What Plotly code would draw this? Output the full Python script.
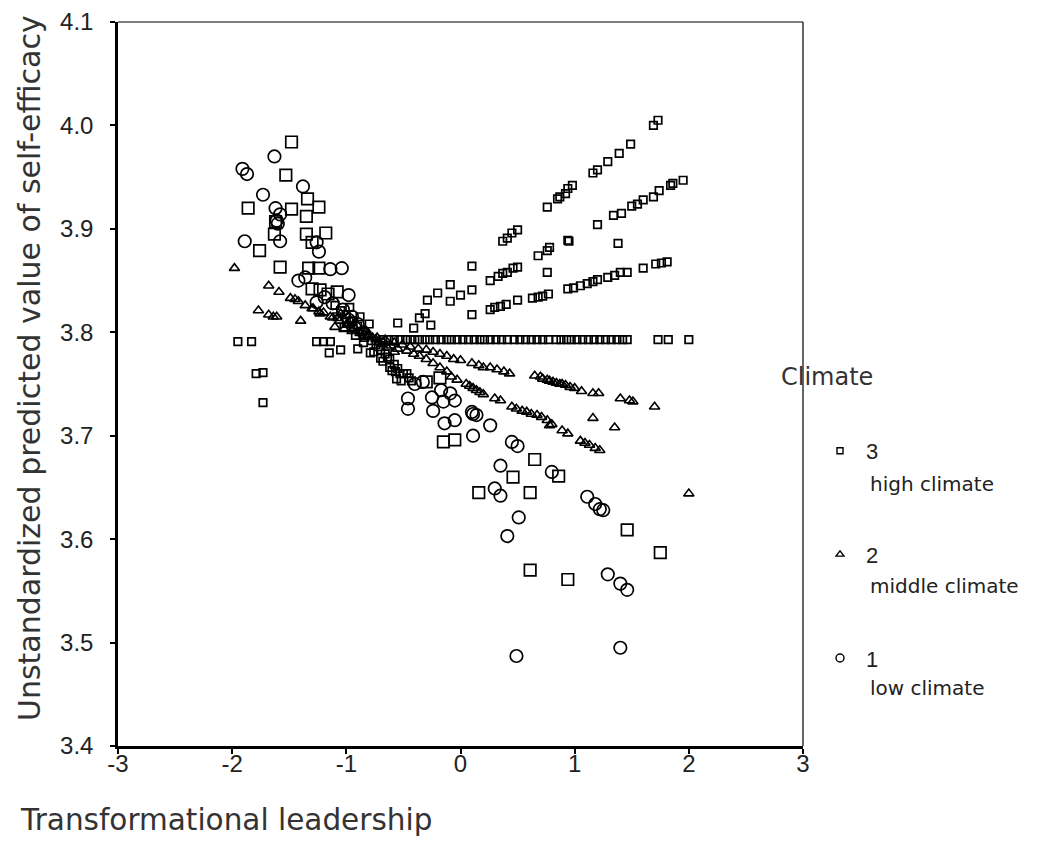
import plotly.graph_objects as go

# ---------------- data ----------------
# High climate (3): squares lying on the fan of predicted-value lines
hc_line_x = [1.73, 1.69, 1.49, 1.39, 1.29, 1.20, 1.16, 0.98, 0.94, 0.92, 0.87, 0.85, 0.76, 0.50, 0.45, 0.41, 0.37,
             0.10, 0.10, 0.00, -0.09, -0.09, -0.20, -0.29, -0.31, -0.36, -0.26, -0.41, -0.55,
             1.95, 1.86, 1.84, 1.74, 1.69, 1.60, 1.55, 1.50, 1.41, 1.34, 1.20, 0.94, 0.95, 0.78, 0.76, 0.68,
             1.38, 0.76, 0.50, 0.46, 0.41, 0.37, 0.33, 0.26,
             1.81, 1.76, 1.71, 1.60, 1.46, 1.40, 1.35, 1.29, 1.20, 1.16, 1.11, 1.05, 0.99, 0.94, 0.77, 0.72,
             0.68, 0.63, 0.50, 0.40, 0.35, 0.30, 0.26, 0.10,
             -1.95, -1.83, -1.26, -1.20, -1.14,
             -0.68, -0.63, -0.58, -0.53, -0.48, -0.44, -0.40, -0.36, -0.31, -0.27, -0.22, -0.17, -0.12, -0.08,
             -0.03, 0.02, 0.07, 0.12, 0.17, 0.21, 0.26, 0.31, 0.36, 0.41, 0.47, 0.52, 0.57, 0.62, 0.67, 0.72,
             0.77, 0.84, 0.88, 0.93, 0.97, 1.02, 1.07, 1.12, 1.17, 1.22, 1.27, 1.32, 1.37, 1.42, 1.46,
             1.73, 1.82, 2.00,
             -1.79, -1.73, -1.73, -1.15, -1.05,
             -1.10, -1.05, -1.00, -0.95, -0.90, -0.86, -0.82, -0.78, -0.74, -0.70, -0.66, -0.62, -0.58, -0.55,
             -0.50, -0.45, -1.02, -0.92, -0.85, -0.76, -0.68, -0.60, -0.52, -0.97, -0.88, -0.80, -0.90, -0.79,
             -0.70, -0.62, -0.53, -0.56, -0.47, -0.43,
             -1.08, -1.00, -0.94, -0.84, -0.72, -0.64, -0.57]
hc_line_y = [4.005, 4.000, 3.982, 3.973, 3.965, 3.957, 3.954, 3.942, 3.939, 3.934, 3.931, 3.929, 3.921, 3.899,
             3.896, 3.891, 3.888,
             3.864, 3.841, 3.836, 3.846, 3.830, 3.838, 3.831, 3.818, 3.814, 3.807, 3.804, 3.809,
             3.947, 3.944, 3.942, 3.937, 3.931, 3.928, 3.924, 3.922, 3.915, 3.913, 3.904, 3.889, 3.888, 3.882,
             3.879, 3.874,
             3.886, 3.858, 3.863, 3.862, 3.858, 3.857, 3.854, 3.850,
             3.868, 3.867, 3.866, 3.862, 3.858, 3.858, 3.855, 3.853, 3.851, 3.849, 3.847, 3.845, 3.843, 3.842,
             3.837, 3.835, 3.834, 3.833, 3.831, 3.827, 3.825, 3.824, 3.822, 3.817,
             3.791, 3.791, 3.791, 3.791, 3.791,
             3.793, 3.793, 3.793, 3.793, 3.793, 3.793, 3.793, 3.793, 3.793, 3.793, 3.793, 3.793, 3.793, 3.793,
             3.793, 3.793, 3.793, 3.793, 3.793, 3.793, 3.793, 3.793, 3.793, 3.793, 3.793, 3.793, 3.793, 3.793,
             3.793, 3.793, 3.793, 3.793, 3.793, 3.793, 3.793, 3.793, 3.793, 3.793, 3.793, 3.793, 3.793, 3.793,
             3.793, 3.793, 3.793,
             3.793, 3.793, 3.793,
             3.760, 3.761, 3.732, 3.780, 3.783,
             3.826, 3.821, 3.817, 3.811, 3.806, 3.801, 3.797, 3.792, 3.788, 3.783, 3.779, 3.774, 3.769, 3.765,
             3.760, 3.756, 3.805, 3.797, 3.790, 3.781, 3.772, 3.763, 3.753, 3.824, 3.815, 3.808, 3.784, 3.780,
             3.775, 3.766, 3.760, 3.755, 3.760, 3.753,
             3.815, 3.810, 3.804, 3.795, 3.786, 3.776, 3.762]

# High climate (3): scattered squares
hc_pts_x = [-1.48, -1.53, -1.34, -1.24, -1.48, -1.86, -1.35, -1.62, -1.63, -1.35, -1.18, -1.30, -1.76, -1.58,
            -1.33, -1.24, -1.30, -1.23, -1.16, -1.08, -0.30, -0.18, -0.15, -0.05, 0.65, 0.86, 0.46, 0.16,
            0.61, 1.46, 1.75, 0.61, 0.94]
hc_pts_y = [3.984, 3.952, 3.929, 3.921, 3.919, 3.920, 3.912, 3.907, 3.895, 3.895, 3.896, 3.887, 3.879, 3.863,
            3.862, 3.862, 3.842, 3.841, 3.837, 3.839, 3.752, 3.756, 3.694, 3.696, 3.677, 3.661, 3.660, 3.645,
            3.645, 3.609, 3.587, 3.570, 3.561]

# Middle climate (2): triangles
mc_x = [-1.98, -1.68, -1.59, -1.49, -1.45, -1.42, -1.36, -1.30, -1.77, -1.68, -1.64, -1.61, -1.40, -1.29,
        -1.24, -1.23, -1.14,
        -1.10, -1.02, -0.95, -0.88, -0.81, -0.73, -0.66, -0.58, -0.51, -0.44, -0.37, -0.30,
        -1.20, -1.12, -1.06, -0.99, -0.93, -0.86, -0.80, -0.74, -0.68, -0.61, -0.55,
        -0.24, -0.18, -0.12, -0.06, 0.00, 0.10, 0.16, 0.20, 0.26, 0.32, 0.38, 0.43, 0.65, 0.70, 0.72, 0.76,
        0.78, 0.81, 0.84, 0.87, 0.89, 0.92, 0.96, 1.00, 1.06, 1.16, 1.21, 1.40, 1.48, 1.51, 1.70,
        -0.47, -0.41, -0.36, -0.30, -0.24, -0.18, -0.12, -0.08, -0.03, 0.05, 0.08, 0.11, 0.14, 0.17, 0.20,
        0.30, 0.35, 0.45, 0.49, 0.54, 0.58, 0.62, 0.67, 0.71, 0.76, 0.80, 0.78, 0.89, 0.94, 1.05, 1.09,
        1.13, 1.18, 1.22,
        1.16, 1.35, 2.00,
        -1.05, -0.97, -0.90, -0.83, -0.77, -0.71, -0.64, -0.58]
mc_y = [3.862, 3.845, 3.839, 3.833, 3.832, 3.830, 3.826, 3.823, 3.821, 3.817, 3.815, 3.815, 3.811, 3.823,
        3.820, 3.818, 3.815,
        3.805, 3.803, 3.801, 3.799, 3.797, 3.795, 3.793, 3.790, 3.788, 3.786, 3.784, 3.783,
        3.819, 3.814, 3.811, 3.807, 3.804, 3.800, 3.797, 3.793, 3.790, 3.787, 3.784,
        3.781, 3.779, 3.777, 3.774, 3.773, 3.770, 3.768, 3.766, 3.766, 3.764, 3.762, 3.760, 3.758, 3.757,
        3.755, 3.754, 3.753, 3.752, 3.751, 3.750, 3.750, 3.749, 3.747, 3.746, 3.743, 3.741, 3.741, 3.736,
        3.734, 3.733, 3.728,
        3.782, 3.779, 3.777, 3.774, 3.770, 3.766, 3.762, 3.757, 3.754, 3.750, 3.748, 3.746, 3.744, 3.742,
        3.740, 3.736, 3.734, 3.728, 3.726, 3.724, 3.723, 3.721, 3.720, 3.718, 3.715, 3.711, 3.710, 3.705,
        3.702, 3.695, 3.693, 3.691, 3.688, 3.686,
        3.717, 3.708, 3.644,
        3.818, 3.812, 3.806, 3.801, 3.795, 3.790, 3.785, 3.781]

# Low climate (1): circles
lc_x = [-1.63, -1.91, -1.87, -1.38, -1.73, -1.62, -1.58, -1.61, -1.60, -1.89, -1.58, -1.26, -1.24, -1.14,
        -1.04, -1.42, -1.36, -0.98, -1.19, -1.26, -1.12, -1.03, -0.95, -0.90, -0.85, -0.98,
        -0.46, -0.46, -0.25, -0.24, -0.40, -0.33, -0.17, -0.09, -0.15, -0.05, -0.14, -0.05, 0.10, 0.11,
        0.14, 0.26, 0.11, 0.45, 0.50, 0.35, 0.30, 0.35, 0.80, 0.51, 0.41, 1.11, 1.18, 1.22, 1.25, 1.29,
        1.40, 1.46, 0.49, 1.40]
lc_y = [3.970, 3.958, 3.953, 3.941, 3.933, 3.920, 3.914, 3.908, 3.905, 3.888, 3.888, 3.887, 3.878, 3.861,
        3.862, 3.850, 3.853, 3.836, 3.834, 3.829, 3.828, 3.822, 3.815, 3.808, 3.800, 3.812,
        3.736, 3.726, 3.737, 3.724, 3.750, 3.752, 3.744, 3.741, 3.733, 3.734, 3.712, 3.715, 3.723, 3.721,
        3.720, 3.710, 3.700, 3.694, 3.690, 3.671, 3.649, 3.642, 3.665, 3.621, 3.603, 3.641, 3.634, 3.629,
        3.628, 3.566, 3.557, 3.551, 3.487, 3.495]

x_ticks = [-3, -2, -1, 0, 1, 2, 3]
y_ticks = [3.4, 3.5, 3.6, 3.7, 3.8, 3.9, 4.0, 4.1]
legend_title = "Climate"
legend_names = ["3", "2", "1"]
legend_labels = ["high climate", "middle climate", "low climate"]

# ---------------- figure ----------------
TXT = "DejaVu Sans"
TICK = "Liberation Sans"
fig = go.Figure()

fig.add_trace(go.Scatter(x=hc_line_x, y=hc_line_y, mode="markers", name=legend_labels[0],
                         showlegend=False,
                         marker=dict(symbol="square-open", size=7.5, color="black", line=dict(width=1.7))))
fig.add_trace(go.Scatter(x=hc_pts_x, y=hc_pts_y, mode="markers", name=legend_labels[0],
                         showlegend=False,
                         marker=dict(symbol="square-open", size=11.5, color="black", line=dict(width=1.7))))
fig.add_trace(go.Scatter(x=mc_x, y=mc_y, mode="markers", name=legend_labels[1], showlegend=False,
                         marker=dict(symbol="triangle-up-open", size=9, color="black", line=dict(width=1.6))))
fig.add_trace(go.Scatter(x=lc_x, y=lc_y, mode="markers", name=legend_labels[2], showlegend=False,
                         marker=dict(symbol="circle-open", size=12.5, color="black", line=dict(width=1.7))))

# legend-only entries (small symbols, as in the reference legend)
legend_symbols = ["square-open", "triangle-up-open", "circle-open"]
legend_sizes = [6, 7, 8]
for nm, sym, sz, grp in zip(legend_names, legend_symbols, legend_sizes, ["g3", "g2", "g1"]):
    fig.add_trace(go.Scatter(x=[None], y=[None], mode="markers", name=" " + nm, legendgroup=grp,
                             marker=dict(symbol=sym, size=sz, color="black", line=dict(width=1.4))))

# The page body adds an 8 px offset; figure is sized so the plot lands where the reference has it.
OFF = 8
W, H = 1043 - OFF, 859 - OFF
L, R, T, B = 110, 240, 14, 113
pw, ph = W - L - R, H - T - B


def px_x(px):
    return (px - OFF - L) / pw


def px_y(py):
    return (H - B - (py - OFF)) / ph


fig.update_layout(
    width=W, height=H,
    margin=dict(l=L, r=R, t=T, b=B, autoexpand=False),
    paper_bgcolor="white", plot_bgcolor="white",
    showlegend=True,
    legend=dict(
        x=px_x(820), y=px_y(430), xanchor="left", yanchor="top",
        font=dict(family=TICK, size=22, color="#222"),
        tracegroupgap=72, valign="middle", itemsizing="trace",
        bgcolor="rgba(0,0,0,0)",
    ),
    xaxis=dict(
        range=[-3, 3], tickvals=x_ticks, ticktext=[str(v) for v in x_ticks],
        showgrid=False, zeroline=False, showline=True, linecolor="black", linewidth=2.5,
        ticks="outside", ticklen=5, tickwidth=1.5, tickcolor="black", ticklabelstandoff=-11,
        tickfont=dict(family=TICK, size=24, color="#222"),
    ),
    yaxis=dict(
        range=[3.4, 4.1], tickvals=y_ticks, ticktext=["%.1f" % v for v in y_ticks],
        showgrid=False, zeroline=False, showline=True, linecolor="black", linewidth=2.5,
        ticks="outside", ticklen=5, tickwidth=1.5, tickcolor="black", ticklabelstandoff=12,
        tickfont=dict(family=TICK, size=24, color="#222"),
    ),
)

# thin top and right frame
fig.add_shape(type="line", xref="paper", yref="paper", x0=0, x1=1, y0=1, y1=1,
              line=dict(color="black", width=1.2))
fig.add_shape(type="line", xref="paper", yref="paper", x0=1, x1=1, y0=0, y1=1,
              line=dict(color="black", width=1.2))

# axis titles
fig.add_annotation(text="Transformational leadership", xref="paper", yref="paper",
                   x=px_x(18), y=px_y(820), xanchor="left", yanchor="middle", showarrow=False,
                   font=dict(family=TXT, size=29.5, color="#333"))
fig.add_annotation(text="Unstandardized predicted value of self-efficacy", xref="paper", yref="paper",
                   x=px_x(30), y=px_y(368), xanchor="center", yanchor="middle", textangle=-90,
                   showarrow=False, font=dict(family=TXT, size=30, color="#333"))

# legend title and sub-labels
fig.add_annotation(text=legend_title, xref="paper", yref="paper", x=px_x(779), y=px_y(377),
                   xanchor="left", yanchor="middle", showarrow=False,
                   font=dict(family=TXT, size=24, color="#333"))
for lab, py in zip(legend_labels, [484, 586, 688]):
    fig.add_annotation(text=lab, xref="paper", yref="paper", x=px_x(868), y=px_y(py),
                       xanchor="left", yanchor="middle", showarrow=False,
                       font=dict(family=TXT, size=20, color="#222"))

fig.write_html("out.html")
